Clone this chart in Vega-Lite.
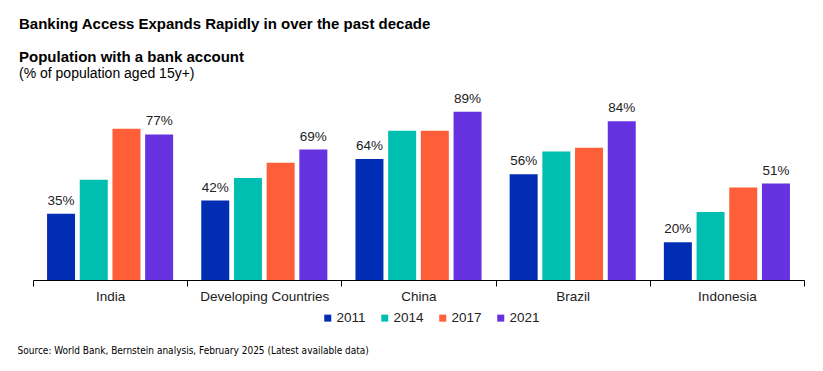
{
  "$schema": "https://vega.github.io/schema/vega-lite/v6.json",
  "width": 771,
  "height": 189,
  "autosize": {"type": "none"},
  "padding": {"left": 33, "top": 91, "right": 19, "bottom": 91},
  "background": "white",
  "config": {"font": "Liberation Sans", "view": {"stroke": null}},
  "title": {
    "text": ["Banking Access Expands Rapidly in over the past decade", "Population with a bank account"],
    "subtitle": "(% of population aged 15y+)",
    "anchor": "start",
    "frame": "group",
    "dx": -14,
    "fontSize": 15,
    "fontWeight": "bold",
    "lineHeight": 33.5,
    "color": "#000000",
    "subtitleFontSize": 14,
    "subtitleColor": "#000000",
    "subtitlePadding": 2,
    "offset": 10
  },
  "data": {
    "values": [
      {"country": "India", "year": "2011", "value": 0.35},
      {"country": "India", "year": "2014", "value": 0.53},
      {"country": "India", "year": "2017", "value": 0.80},
      {"country": "India", "year": "2021", "value": 0.77},
      {"country": "Developing Countries", "year": "2011", "value": 0.42},
      {"country": "Developing Countries", "year": "2014", "value": 0.54},
      {"country": "Developing Countries", "year": "2017", "value": 0.62},
      {"country": "Developing Countries", "year": "2021", "value": 0.69},
      {"country": "China", "year": "2011", "value": 0.64},
      {"country": "China", "year": "2014", "value": 0.79},
      {"country": "China", "year": "2017", "value": 0.79},
      {"country": "China", "year": "2021", "value": 0.89},
      {"country": "Brazil", "year": "2011", "value": 0.56},
      {"country": "Brazil", "year": "2014", "value": 0.68},
      {"country": "Brazil", "year": "2017", "value": 0.70},
      {"country": "Brazil", "year": "2021", "value": 0.84},
      {"country": "Indonesia", "year": "2011", "value": 0.20},
      {"country": "Indonesia", "year": "2014", "value": 0.36},
      {"country": "Indonesia", "year": "2017", "value": 0.49},
      {"country": "Indonesia", "year": "2021", "value": 0.51}
    ]
  },
  "encoding": {
    "x": {
      "field": "country",
      "type": "nominal",
      "sort": ["India", "Developing Countries", "China", "Brazil", "Indonesia"],
      "scale": {"paddingInner": 0, "paddingOuter": 0},
      "axis": {
        "labelAngle": 0,
        "tickBand": "extent",
        "tickSize": 6,
        "tickColor": "#000000",
        "domainColor": "#000000",
        "labelFontSize": 13.5,
        "labelColor": "#222222",
        "labelPadding": 3,
        "title": "Source: World Bank, Bernstein analysis, February 2025 (Latest available data)",
        "titleFont": "'Liberation Sans Narrow', 'DejaVu Sans Condensed', 'Liberation Sans', sans-serif",
        "titleFontSize": 10,
        "titleFontWeight": "normal",
        "titleColor": "#000000",
        "titleAnchor": "start",
        "titleAlign": "left",
        "titleBaseline": "middle",
        "titleX": -16,
        "titleY": 70
      }
    },
    "xOffset": {
      "field": "year",
      "type": "nominal",
      "scale": {"paddingInner": 0.144, "paddingOuter": 0.43}
    },
    "y": {
      "field": "value",
      "type": "quantitative",
      "scale": {"domain": [0, 1]},
      "axis": null
    }
  },
  "layer": [
    {
      "mark": {"type": "bar"},
      "encoding": {
        "color": {
          "field": "year",
          "type": "nominal",
          "scale": {
            "domain": ["2011", "2014", "2017", "2021"],
            "range": ["#002DB3", "#00BFB0", "#FF5F38", "#6632E0"]
          },
          "legend": {
            "title": null,
            "orient": "none",
            "direction": "horizontal",
            "legendX": 288,
            "legendY": 220,
            "symbolType": "square",
            "symbolSize": 49,
            "symbolStrokeWidth": 0,
            "labelFontSize": 13.5,
            "labelColor": "#222222",
            "labelOffset": 2,
            "columnPadding": 12
          }
        }
      }
    },
    {
      "transform": [{"filter": "datum.year === '2011' || datum.year === '2021'"}],
      "mark": {"type": "text", "baseline": "alphabetic", "dy": -9, "fontSize": 13.5, "color": "#222222"},
      "encoding": {
        "text": {"field": "value", "type": "quantitative", "format": ".0%"}
      }
    }
  ]
}
